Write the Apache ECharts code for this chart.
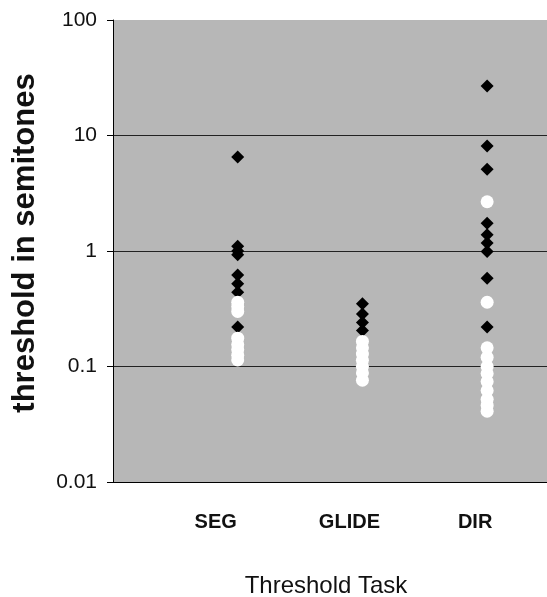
<!DOCTYPE html>
<html>
<head>
<meta charset="utf-8">
<script src="https://cdn.jsdelivr.net/npm/echarts@6/dist/echarts.min.js"></script>
<style>
html,body{margin:0;padding:0;background:#fff;}
#chart{width:547px;height:597px;}
</style>
</head>
<body>
<div id="chart"></div>
<script>
const categories = ['SEG', 'GLIDE', 'DIR'];
const yTickLabels = ['0.01', '0.1', '1', '10', '100'];

const segDiamonds = [6.5, 1.1, 1.0, 0.93, 0.62, 0.52, 0.44, 0.22];
const segCircles = [0.36, 0.33, 0.30, 0.176, 0.155, 0.14, 0.125, 0.114];
const glideDiamonds = [0.35, 0.285, 0.24, 0.205];
const glideCircles = [0.165, 0.145, 0.128, 0.113, 0.1, 0.088, 0.076];
const dirDiamonds = [26.8, 8.1, 5.1, 1.74, 1.38, 1.17, 0.99, 0.58, 0.22];
const dirCircles = [2.67, 0.36, 0.145, 0.12, 0.1, 0.087, 0.074, 0.062, 0.052, 0.046, 0.041];

const diamondGroups = [segDiamonds, glideDiamonds, dirDiamonds];
const circleGroups = [segCircles, glideCircles, dirCircles];

function toPoints(groups) {
  const pts = [];
  groups.forEach((vals, i) => vals.forEach(v => pts.push([i + 1, v])));
  return pts;
}

const FONT = '"Liberation Sans", Arial, Helvetica, sans-serif';
const chart = echarts.init(document.getElementById('chart'), null, {renderer: 'canvas'});
chart.setOption({
  animation: false,
  grid: {
    left: 113, right: 0, top: 20, bottom: 115,
    containLabel: false, outerBoundsMode: 'none',
    show: true, backgroundColor: '#b7b7b7', borderWidth: 0
  },
  xAxis: {
    type: 'value', min: 0, max: 3.48, interval: 1,
    name: 'Threshold Task', nameLocation: 'middle', nameGap: 92,
    nameTextStyle: {fontFamily: FONT, fontSize: 24, color: '#111', padding: [0, 8, 0, 0]},
    axisLine: {show: true, lineStyle: {color: '#000', width: 1}},
    axisTick: {show: false},
    splitLine: {show: false},
    axisLabel: {
      margin: 30,
      showMaxLabel: false,
      formatter: v => {
        const idx = Math.round(v) - 1;
        if (Math.abs(v - Math.round(v)) > 1e-6 || idx < 0 || idx >= categories.length) return '';
        return '{c' + idx + '|' + categories[idx] + '}';
      },
      rich: {
        c0: {fontFamily: FONT, fontSize: 20, fontWeight: 'bold', color: '#111', padding: [0, 44, 0, 0]},
        c1: {fontFamily: FONT, fontSize: 20, fontWeight: 'bold', color: '#111', padding: [0, 26, 0, 0]},
        c2: {fontFamily: FONT, fontSize: 20, fontWeight: 'bold', color: '#111', padding: [0, 24, 0, 0]}
      }
    }
  },
  yAxis: {
    type: 'log', logBase: 10, min: 0.01, max: 100,
    name: 'threshold in semitones', nameLocation: 'middle', nameGap: 72,
    nameTextStyle: {fontFamily: FONT, fontSize: 31, fontWeight: 'bold', color: '#111', padding: [0, 0, 0, 16]},
    axisLine: {show: true, lineStyle: {color: '#000', width: 1}},
    axisTick: {show: true, length: 6, lineStyle: {color: '#000'}},
    minorTick: {show: false},
    splitLine: {show: true, lineStyle: {color: ['#000', '#222', '#222', '#222', 'rgba(0,0,0,0)'], width: 1}},
    axisLabel: {
      margin: 16, fontFamily: FONT, fontSize: 21, color: '#111',
      formatter: v => yTickLabels[Math.round(Math.log10(v)) + 2] || ''
    }
  },
  series: [
    {
      type: 'scatter', name: 'diamond', symbol: 'diamond', symbolSize: 13,
      itemStyle: {color: '#000', opacity: 1},
      data: toPoints(diamondGroups), z: 2
    },
    {
      type: 'scatter', name: 'circle', symbol: 'circle', symbolSize: 13,
      itemStyle: {color: '#fff', opacity: 1},
      data: toPoints(circleGroups), z: 3
    }
  ]
});
</script>
</body>
</html>
